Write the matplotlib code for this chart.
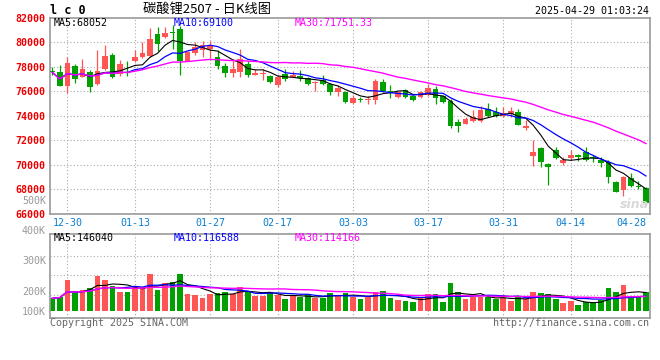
import numpy as np
import pandas as pd
import matplotlib
matplotlib.use('Agg')
import matplotlib.pyplot as plt

# 일봉 데이터 (2024-12-26 ~ 2025-04-28), 그림에서 읽은 값
opens = [77700, 77620, 76460, 78070, 77200, 77620, 76600, 77800, 78970, 77420,
         77620, 78510, 78780, 78890, 80690, 80450, 80880, 81070, 78510, 79100,
         79400, 79440, 78830, 78100, 77470, 77610, 78240, 77330, 77400, 77250,
         76520, 77390, 77200, 77270, 77060, 76700, 76930, 76570, 75970, 75970,
         75070, 75350, 75290, 75290, 76790, 76060, 75560, 76110, 75610, 75510,
         75700, 76160, 75610, 75230, 73520, 73330, 73600, 73600, 74530, 74330,
         73980, 74150, 74330, 72970, 70710, 71340, 70050, 71200, 70110, 70520,
         70790, 71060, 70600, 70360, 70240, 68540, 67930, 68890, 68250, 68110]
highs = [78000, 78150, 78780, 78250, 78620, 77730, 79380, 79770, 79100, 78560,
         78500, 79400, 80000, 81200, 81290, 81290, 81450, 81350, 79330, 80060,
         80140, 80140, 79380, 78340, 78620, 79440, 78450, 77850, 77850, 77330,
         77330, 77800, 77670, 77720, 77140, 76840, 77330, 76660, 76520, 76060,
         75700, 75560, 75590, 77030, 77030, 76520, 76060, 76160, 75700, 76060,
         76600, 76420, 75700, 75330, 73700, 73870, 74470, 74800, 75020, 74750,
         74750, 74750, 74530, 73650, 72020, 71420, 70110, 71420, 70600, 71200,
         70870, 71470, 70790, 70600, 70380, 68620, 69060, 69300, 68690, 68200]
lows = [77350, 76400, 75890, 76650, 77150, 75970, 76550, 77750, 77050, 77250,
        77250, 78400, 78700, 78830, 79330, 80340, 79440, 77330, 78450, 78970,
        78830, 78700, 77830, 77200, 77200, 77200, 77200, 77330, 76920, 76650,
        76380, 76840, 77140, 76880, 76520, 75990, 76520, 75700, 75620, 75060,
        75000, 75150, 74930, 74930, 75970, 75480, 75420, 75420, 75200, 75420,
        75620, 74940, 75060, 72990, 72640, 73330, 73490, 73520, 73870, 73870,
        73870, 73870, 73240, 72840, 69890, 69810, 68330, 70440, 69980, 70380,
        70330, 70330, 70250, 69780, 68470, 67720, 67450, 68150, 68000, 66720]
closes = [77550, 76460, 78340, 76980, 77800, 76380, 77660, 78900, 77190, 78240,
          77480, 78780, 79160, 80280, 79850, 80780, 80750, 78510, 79240, 79620,
          79790, 79710, 78100, 77470, 77830, 78620, 77330, 77520, 77480, 76790,
          77150, 76980, 77330, 77060, 76600, 76790, 76600, 75970, 76240, 75150,
          75480, 75290, 75380, 76850, 76060, 75840, 75970, 75560, 75290, 75970,
          76240, 75430, 75150, 73190, 73190, 73710, 73870, 74470, 73980, 73980,
          74200, 74420, 73240, 73160, 71060, 70250, 69830, 70520, 70380, 70790,
          70600, 70380, 70520, 70160, 68960, 67790, 69020, 68250, 68150, 66880]
# 거래량 (단위 K)
volumes = [100, 113, 245, 140, 166, 179, 279, 245, 198, 153,
           153, 187, 187, 292, 166, 219, 229, 292, 134, 126,
           103, 134, 145, 153, 134, 187, 161, 119, 121, 150,
           126, 97, 119, 108, 134, 100, 105, 145, 126, 140,
           108, 92, 108, 153, 158, 100, 87, 79, 73, 108,
           134, 134, 73, 224, 148, 95, 108, 113, 108, 92,
           105, 79, 108, 92, 153, 145, 134, 92, 66, 79,
           45, 69, 69, 88, 180, 153, 205, 112, 108, 152]

tick_idx = [2, 11, 21, 30, 40, 50, 60, 69, 79]
tick_labels = ['12-30', '01-13', '01-27', '02-17', '03-03', '03-17', '03-31', '04-14', '04-28']
price_ticks = [66000, 68000, 70000, 72000, 74000, 76000, 78000, 80000, 82000]
vol_ticks = [0, 158, 403]
vol_tick_labels = ['100K', '200K', '300K']

RED = '#ff5555'
GREEN = '#00a000'
GRID = '#aaaaaa'
FRAME = '#999999'
MONO = 'DejaVu Sans Mono'
plt.rcParams['font.family'] = MONO

o = np.array(opens)
c = np.array(closes)
h = np.array(highs)
l = np.array(lows)
v = np.array(volumes)
x = np.arange(len(c))
cols = np.where(c >= o, RED, GREEN)

W, H = 660, 360
fig = plt.figure(figsize=(6.6, 3.6), dpi=100)
fig.patch.set_facecolor('white')


def box(left, top, right, bottom):
    return [left / W, 1 - bottom / H, (right - left) / W, (bottom - top) / H]


def ftext(px, py, s, **kw):
    fig.text(px / W, 1 - py / H, s, **kw)


ax = fig.add_axes(box(50, 18, 650, 213.5))
ax2 = fig.add_axes(box(50, 234, 650, 318))

for a in (ax, ax2):
    a.set_xlim(-0.31, 79.54)
    for s in a.spines.values():
        s.set_color(FRAME)
        s.set_linewidth(1.2)
    for t in tick_idx[:-1]:
        a.axvline(t, color=GRID, lw=0.8, ls=(0, (1, 2)), zorder=0)

# 캔들
ax.vlines(x, l, h, colors=cols, lw=0.9, zorder=2)
body = np.maximum(np.abs(c - o), 70)
ax.bar(x, body, bottom=np.minimum(o, c), width=0.76, color=cols, zorder=3)

s = pd.Series(closes)
ax.plot(x, s.rolling(5, min_periods=1).mean(), color='black', lw=0.8, zorder=4)
ax.plot(x, s.rolling(10, min_periods=1).mean(), color='#0000ff', lw=0.9, zorder=4)
ax.plot(x, s.rolling(30, min_periods=1).mean(), color='#ff00ff', lw=1.0, zorder=4)

ax.set_ylim(66000, 82000)
ax.set_yticks(price_ticks)
ax.set_yticklabels([str(p) for p in price_ticks], color='#ee0000', fontweight='bold', fontsize=7.2)
for p in price_ticks[1:-1]:
    ax.axhline(p, color=GRID, lw=0.8, ls=(0, (1, 2)), zorder=0)
ax.set_xticks(tick_idx)
ax.set_xticklabels(tick_labels, color='#0a7fd0', fontsize=7.2)
ax.get_xticklabels()[-1].set_ha('right')
ax.tick_params(length=0, pad=3)
ax.get_xticklabels()[-1].set_x(79.9)

# 거래량
ax2.bar(x, v, width=0.76, color=cols, zorder=2)
vs = pd.Series(volumes)
ax2.plot(x, vs.rolling(5, min_periods=1).mean(), color='black', lw=0.8, zorder=3)
ax2.plot(x, vs.rolling(10, min_periods=1).mean(), color='#0000ff', lw=0.9, zorder=3)
ax2.plot(x, vs.rolling(30, min_periods=1).mean(), color='#ff00ff', lw=1.0, zorder=3)
ax2.set_ylim(-55.3, 608.3)
ax2.set_yticks(vol_ticks)
ax2.set_yticklabels(vol_tick_labels, color='#999999', fontsize=7.2)
ax2.set_xticks([])
ax2.tick_params(length=0, pad=3)
for g in [126, 284, 437]:
    ax2.axhline(g, color=GRID, lw=0.8, ls=(0, (1, 2)), zorder=0)

# 텍스트
ftext(46, 231, '400K', color='#999999', fontsize=7.2, ha='right', va='center')
ftext(46, 201, '500K', color='#999999', fontsize=7.2, ha='right', va='center')
ftext(50, 11, 'l c 0', fontsize=8.5, fontweight='bold', va='center')
ftext(207, 9.5, '碳酸锂2507 - 日K线图', fontsize=9.5, ha='center', va='center',
      family=['Noto Sans CJK SC', 'DejaVu Sans'])
ftext(649, 11.5, '2025-04-29 01:03:24', fontsize=7.2, ha='right', va='center')
ftext(54, 23.3, 'MA5:68052', fontsize=7.2, va='center', color='black')
ftext(174, 23.3, 'MA10:69100', fontsize=7.2, va='center', color='#0000ff')
ftext(295, 23.3, 'MA30:71751.33', fontsize=7.2, va='center', color='#ff00ff')
ftext(54, 238.3, 'MA5:146040', fontsize=7.2, va='center', color='black')
ftext(174, 238.3, 'MA10:116588', fontsize=7.2, va='center', color='#0000ff')
ftext(295, 238.3, 'MA30:114166', fontsize=7.2, va='center', color='#ff00ff')
ftext(50, 323.5, 'Copyright 2025 SINA.COM', fontsize=7.2, va='center', color='#666666')
ftext(649, 323.5, 'http://finance.sina.com.cn', fontsize=7.2, ha='right', va='center', color='#666666')
ftext(634, 204, 'sina', fontsize=9, fontweight='bold', style='italic', ha='center', va='center',
      color='#d8d8d8', family='DejaVu Sans')

fig.savefig('out.png', dpi=100)
